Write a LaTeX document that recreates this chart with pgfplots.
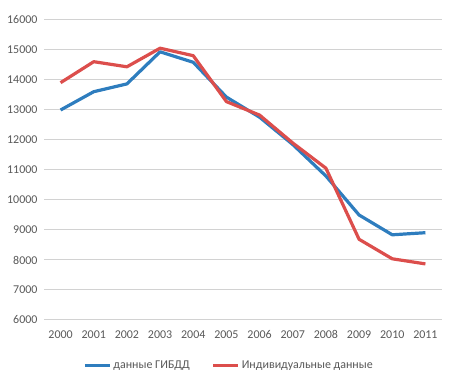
\documentclass[border=0pt]{standalone}
\usepackage{fontspec}
\setmainfont{Carlito}
\usepackage{pgfplots}
\pgfplotsset{compat=1.18}
\definecolor{sblue}{RGB}{46,125,190}
\definecolor{sred}{RGB}{220,78,76}
\definecolor{txt}{RGB}{89,89,89}
\definecolor{grd}{RGB}{210,210,210}
\begin{document}
\begin{tikzpicture}
\useasboundingbox (0bp,0bp) rectangle (451bp,386bp);
\begin{axis}[
  at={(44bp,66bp)}, anchor=south west,
  scale only axis, width=398bp, height=300bp,
  xmin=-0.5, xmax=11.5, ymin=6000, ymax=16000,
  xtick={0,...,11},
  xticklabels={2000,2001,2002,2003,2004,2005,2006,2007,2008,2009,2010,2011},
  ytick={6000,7000,...,16000},
  scaled y ticks=false,
  axis line style={draw=none},
  major tick length=0pt,
  ymajorgrids, grid style={grd, line width=1bp},
  tick label style={font=\fontsize{12}{14}\selectfont, text=txt},
  /pgf/number format/assume math mode=true,
  /pgf/number format/1000 sep={},
  yticklabel style={xshift=-3bp},
  xticklabel style={yshift=-7bp},
  legend style={at={(0.465,-0.13)}, anchor=north, draw=none, legend columns=2,
    font=\fontsize{12}{14}\selectfont, text=txt, inner sep=0pt,
    /tikz/every even column/.append style={column sep=20bp}},
  legend image code/.code={\draw[#1, line width=3bp] (0bp,0bp) -- (25bp,0bp);},
]
\addplot[sblue, line width=3.2bp, line join=round] coordinates {
(0,13000) (1,13610) (2,13870) (3,14940) (4,14590) (5,13430) (6,12760) (7,11850) (8,10800) (9,9500) (10,8840) (11,8910)};
\addlegendentry{данные ГИБДД}
\addplot[sred, line width=3.2bp, line join=round] coordinates {
(0,13910) (1,14610) (2,14440) (3,15060) (4,14810) (5,13280) (6,12830) (7,11900) (8,11060) (9,8690) (10,8040) (11,7870)};
\addlegendentry{Индивидуальные данные}
\end{axis}
\end{tikzpicture}
\end{document}
